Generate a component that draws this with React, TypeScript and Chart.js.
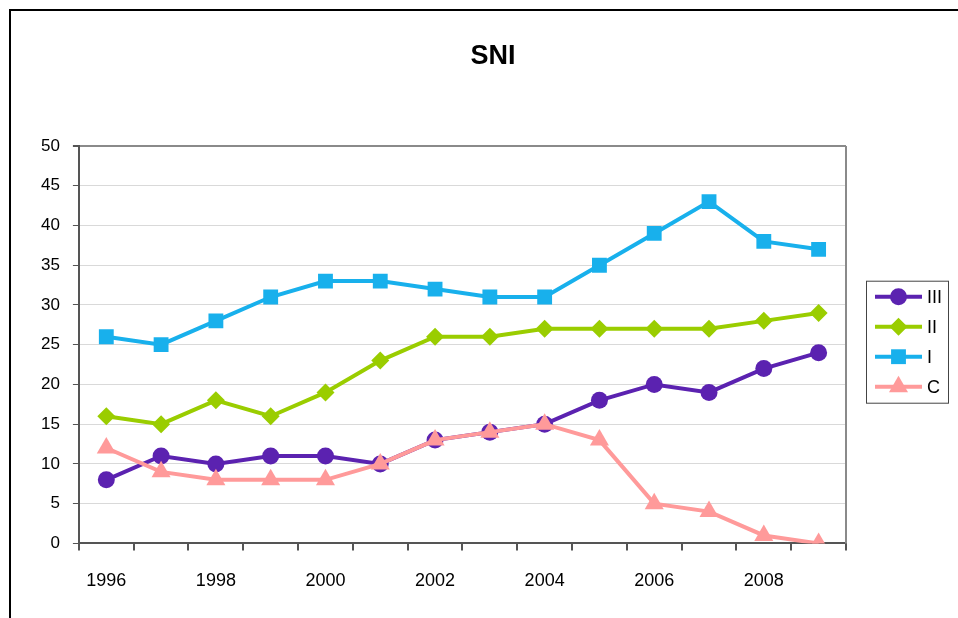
import React, { useEffect, useRef } from "react";
import { Chart, registerables } from "chart.js";

Chart.register(...registerables);

const YEARS = ["1996", "1997", "1998", "1999", "2000", "2001", "2002", "2003", "2004", "2005", "2006", "2007", "2008", "2009"];
const SERIES_III = [8, 11, 10, 11, 11, 10, 13, 14, 15, 18, 20, 19, 22, 24];
const SERIES_II = [16, 15, 18, 16, 19, 23, 26, 26, 27, 27, 27, 27, 28, 29];
const SERIES_I = [26, 25, 28, 31, 33, 33, 32, 31, 31, 35, 39, 43, 38, 37];
const SERIES_C = [12, 9, 8, 8, 8, 10, 13, 14, 15, 13, 5, 4, 1, 0];
const LABELS = ["III", "II", "I", "C"];
const COLORS = ["#5B22B0", "#9ACD00", "#18B0EC", "#FF9A9A"];
const STYLES = ["circle", "rectRot", "rect", "triangle"];
const RADII = [8.5, 9, 10.5, 11];
const Y_MIN = 0;
const Y_MAX = 50;
const Y_STEP = 5;
const TITLE = "SNI";
const FONT = "'Liberation Sans', Arial, sans-serif";

function drawMarker(ctx: CanvasRenderingContext2D, style: string, x: number, y: number, r: number, color: string) {
  ctx.save();
  ctx.fillStyle = color;
  ctx.beginPath();
  if (style === "circle") {
    ctx.arc(x, y, r, 0, Math.PI * 2);
  } else if (style === "rectRot") {
    ctx.moveTo(x, y - r);
    ctx.lineTo(x + r, y);
    ctx.lineTo(x, y + r);
    ctx.lineTo(x - r, y);
    ctx.closePath();
  } else if (style === "rect") {
    const s = r * Math.SQRT1_2;
    ctx.rect(x - s, y - s, 2 * s, 2 * s);
  } else {
    const hw = r * 0.866;
    ctx.moveTo(x, y - r);
    ctx.lineTo(x + hw, y + r / 2);
    ctx.lineTo(x - hw, y + r / 2);
    ctx.closePath();
  }
  ctx.fill();
  ctx.restore();
}

export default function App() {
  const ref = useRef<HTMLCanvasElement>(null);

  useEffect(() => {
    if (!ref.current) return;
    const seriesData = [SERIES_III, SERIES_II, SERIES_I, SERIES_C];

    const decor = {
      id: "decor",
      beforeDraw(chart: any) {
        const { ctx, width, height } = chart;
        ctx.save();
        ctx.fillStyle = "#fff";
        ctx.fillRect(0, 0, width, height);
        ctx.strokeStyle = "#000";
        ctx.lineWidth = 2;
        ctx.strokeRect(10, 10, width + 20, height + 20);
        ctx.restore();
      },
      beforeDatasetsDraw(chart: any) {
        const { ctx, chartArea } = chart;
        ctx.save();
        ctx.strokeStyle = "#8a8a8a";
        ctx.lineWidth = 2;
        ctx.beginPath();
        ctx.moveTo(chartArea.right, chartArea.top);
        ctx.lineTo(chartArea.right, chartArea.bottom);
        ctx.stroke();
        ctx.restore();
      },
      afterDraw(chart: any) {
        const { ctx, chartArea } = chart;
        ctx.save();
        // title
        ctx.fillStyle = "#000";
        ctx.font = `bold 27px ${FONT}`;
        ctx.textAlign = "center";
        ctx.textBaseline = "middle";
        ctx.fillText(TITLE, 493, 57);
        // legend
        const bx = chartArea.right + 20;
        const bw = 82;
        const rowH = 30;
        const bh = rowH * LABELS.length + 2;
        const by = (chartArea.top + chartArea.bottom) / 2 - bh / 2 - 3;
        ctx.fillStyle = "#fff";
        ctx.fillRect(bx, by, bw, bh);
        ctx.strokeStyle = "#444";
        ctx.lineWidth = 1;
        ctx.strokeRect(bx + 0.5, by + 0.5, bw, bh);
        LABELS.forEach((lab, i) => {
          const y = by + 16 + i * rowH;
          const x0 = bx + 9;
          const x1 = bx + 56;
          ctx.strokeStyle = COLORS[i];
          ctx.lineWidth = 4;
          ctx.beginPath();
          ctx.moveTo(x0, y);
          ctx.lineTo(x1, y);
          ctx.stroke();
          drawMarker(ctx, STYLES[i], (x0 + x1) / 2, y, RADII[i], COLORS[i]);
          ctx.fillStyle = "#000";
          ctx.font = `18px ${FONT}`;
          ctx.textAlign = "left";
          ctx.textBaseline = "middle";
          ctx.fillText(lab, x1 + 5, y + 1);
        });
        ctx.restore();
      },
    };

    const chart = new Chart(ref.current, {
      type: "line",
      data: {
        labels: YEARS,
        datasets: LABELS.map((lab, i) => ({
          label: lab,
          data: seriesData[i],
          borderColor: COLORS[i],
          backgroundColor: COLORS[i],
          borderWidth: 4,
          pointStyle: STYLES[i] as any,
          pointRadius: RADII[i],
          pointBorderWidth: 0,
          pointBackgroundColor: COLORS[i],
          tension: 0,
          order: LABELS.length - 1 - i,
        })),
      },
      options: {
        responsive: false,
        animation: false,
        layout: { padding: { left: 28, right: 112, top: 146, bottom: 6 } },
        plugins: {
          legend: { display: false },
          title: { display: false },
          tooltip: { enabled: false },
        },
        scales: {
          x: {
            type: "category",
            offset: true,
            grid: {
              offset: true,
              drawOnChartArea: false,
              drawTicks: true,
              tickLength: 7,
              color: "#555",
              lineWidth: 2,
            },
            border: { color: "#555", width: 2 },
            ticks: {
              autoSkip: false,
              maxRotation: 0,
              padding: 20,
              color: "#000",
              font: { family: FONT, size: 18 },
              callback: (_v: any, i: number) => (i % 2 === 0 ? YEARS[i] : ""),
            },
          },
          y: {
            min: Y_MIN,
            max: Y_MAX,
            grid: {
              color: (c: any) => (c.tick && c.tick.value === Y_MAX ? "#8a8a8a" : "#d9d9d9"),
              lineWidth: (c: any) => (c.tick && c.tick.value === Y_MAX ? 2 : 1),
              tickColor: "#555",
              tickLength: 6,
            },
            border: { color: "#555", width: 2 },
            ticks: {
              stepSize: Y_STEP,
              padding: 13,
              color: "#000",
              font: { family: FONT, size: 17 },
            },
          },
        },
      },
      plugins: [decor],
    });
    return () => chart.destroy();
  }, []);

  return (
    <div style={{ position: "absolute", left: 0, top: 0, width: 958, height: 618, background: "#fff" }}>
      <canvas ref={ref} width={958} height={618} style={{ display: "block" }} />
    </div>
  );
}
